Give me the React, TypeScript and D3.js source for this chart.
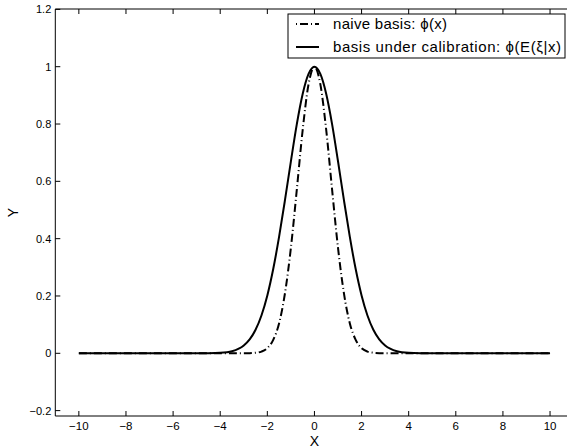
import React from "react";
import * as d3 from "d3";

const xs = [-10, -9, -8, -7, -6, -5, -4.5, -4, -3.5, -3, -2.75, -2.5, -2.25, -2, -1.75, -1.5, -1.25, -1, -0.75, -0.5, -0.25, 0,
  0.25, 0.5, 0.75, 1, 1.25, 1.5, 1.75, 2, 2.25, 2.5, 2.75, 3, 3.5, 4, 4.5, 5, 6, 7, 8, 9, 10];
const naiveY = [0, 0, 0, 0, 0, 0, 0, 0, 0, 0.0001, 0.0005, 0.002, 0.006, 0.018, 0.047, 0.105, 0.21, 0.368, 0.57, 0.779, 0.939, 1,
  0.939, 0.779, 0.57, 0.368, 0.21, 0.105, 0.047, 0.018, 0.006, 0.002, 0.0005, 0.0001, 0, 0, 0, 0, 0, 0, 0, 0, 0];
const calibY = [0, 0, 0, 0, 0, 0, 0.0003, 0.0017, 0.0074, 0.0273, 0.0486, 0.082, 0.132, 0.202, 0.294, 0.407, 0.535, 0.67, 0.799, 0.905, 0.975, 1,
  0.975, 0.905, 0.799, 0.67, 0.535, 0.407, 0.294, 0.202, 0.132, 0.082, 0.0486, 0.0273, 0.0074, 0.0017, 0.0003, 0, 0, 0, 0, 0, 0];
const xTicks = [-10, -8, -6, -4, -2, 0, 2, 4, 6, 8, 10];
const yTicks = [-0.2, 0, 0.2, 0.4, 0.6, 0.8, 1, 1.2];
const legendLabels = ["naive basis: \u03d5(x)", "basis under calibration: \u03d5(E(\u03be|x)"];

export default function App() {
  const W = 567, H = 448;
  const left = 55.3, right = 573.6, top = 9, bottom = 416;
  const x = d3.scaleLinear().domain([-11, 11]).range([left, right]);
  const y = d3.scaleLinear().domain([0, 1]).range([353.3, 66.7]);
  const line = (vals: number[]) =>
    d3.line<number>().x((_, i) => x(xs[i])).y((d) => y(d)).curve(d3.curveMonotoneX)(vals) || "";
  const fmt = (v: number) => d3.format("")(Math.round(v * 10) / 10).replace("-", "\u2212");
  const font = "'Liberation Sans', Arial, Helvetica, sans-serif";
  const tl = 5;
  const lx = 288, ly = 14, lw = 277, lh = 44;
  return (
    <svg width={W} height={H} style={{ position: "absolute", left: 0, top: 0, background: "#fff" }} fontFamily={font}>
      <rect x={0} y={0} width={W} height={H} fill="#fff" />
      <path d={line(calibY)} fill="none" stroke="#000" strokeWidth={2} />
      <path d={line(naiveY)} fill="none" stroke="#000" strokeWidth={2} strokeDasharray="8,3,1,3" />
      {/* axes box */}
      <line x1={left} x2={right} y1={top} y2={top} stroke="#000" strokeWidth={1} />
      <line x1={left} x2={right} y1={bottom} y2={bottom} stroke="#000" strokeWidth={1} />
      <line x1={left} x2={left} y1={top} y2={bottom} stroke="#000" strokeWidth={1} />
      <line x1={right} x2={right} y1={top} y2={bottom} stroke="#000" strokeWidth={1} />
      {xTicks.map((t) => (
        <g key={"x" + t}>
          <line x1={x(t)} x2={x(t)} y1={bottom} y2={bottom - tl} stroke="#000" />
          <line x1={x(t)} x2={x(t)} y1={top} y2={top + tl} stroke="#000" />
          <text x={x(t)} y={bottom + 14} fontSize={11.5} textAnchor="middle">{fmt(t)}</text>
        </g>
      ))}
      {yTicks.map((t) => (
        <g key={"y" + t}>
          <line x1={left} x2={left + tl} y1={y(t)} y2={y(t)} stroke="#000" />
          <line x1={right} x2={right - tl} y1={y(t)} y2={y(t)} stroke="#000" />
          <text x={left - 4} y={y(t) + 4} fontSize={11} textAnchor="end">{fmt(t)}</text>
        </g>
      ))}
      <text x={x(0)} y={446} fontSize={14} textAnchor="middle">X</text>
      <text transform={`translate(18,${(top + bottom) / 2}) rotate(-90)`} fontSize={14} textAnchor="middle">Y</text>
      {/* legend */}
      <rect x={lx} y={ly} width={lw} height={lh} fill="#fff" stroke="#000" strokeWidth={1} />
      <line x1={lx + 8} x2={lx + 31} y1={ly + 10} y2={ly + 10} stroke="#000" strokeWidth={2} strokeDasharray="1,3,8,3" />
      <line x1={lx + 8} x2={lx + 31} y1={ly + 33} y2={ly + 33} stroke="#000" strokeWidth={2} />
      <text x={lx + 45} y={ly + 15} fontSize={15} textLength={114} lengthAdjust="spacing">{legendLabels[0]}</text>
      <text x={lx + 45} y={ly + 38} fontSize={15} textLength={228} lengthAdjust="spacing">{legendLabels[1]}</text>
    </svg>
  );
}
